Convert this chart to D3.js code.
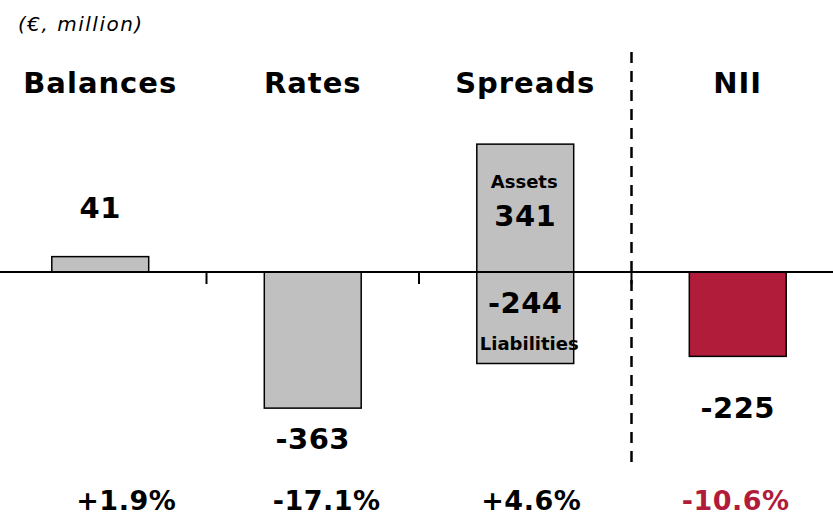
<!DOCTYPE html>
<html>
<head>
<meta charset="utf-8">
<script src="https://cdn.jsdelivr.net/npm/d3@7"></script>
<style>
  body { margin: 0; background: white; }
  text { font-family: "DejaVu Sans", Verdana, sans-serif; font-weight: bold; fill: black; }
</style>
</head>
<body>
<div id="chart"></div>
<script>
let width = 833;
let height = 515;

let categories = ["Balances", "Rates", "Spreads", "NII"];
let barStart = [0, 0, 0, 0];
let barEnd = [41, -363, 341, -225];
let liabilities = -244;
let valueLabels = ["41", "-363", "341", "-225"];
let pctLabels = ["+1.9%", "-17.1%", "+4.6%", "-10.6%"];

let grey = "#c0c0c0";
let red = "#b01c3a";

let svg = d3.select("#chart").append("svg")
    .attr("width", width)
    .attr("height", height);

let x = d3.scaleBand()
    .domain(categories)
    .range([-6, 844]);

let y = d3.scaleLinear()
    .domain([0, 400])
    .range([272, 272 - 150]);

let barW = x.bandwidth() * 0.456;
let cx = function(c) { return x(c) + x.bandwidth() / 2; };

// unit note
svg.append("text")
    .attr("x", 18).attr("y", 31)
    .style("font-weight", "normal")
    .style("font-style", "italic")
    .style("font-size", "20px")
    .style("letter-spacing", "1.5px")
    .text("(€, million)");

// headers
svg.selectAll("text.head")
    .data(categories)
    .enter().append("text")
    .attr("class", "head")
    .attr("x", cx)
    .attr("y", 93)
    .attr("text-anchor", "middle")
    .style("font-size", "29px")
    .style("letter-spacing", "1px")
    .text(function(d) { return d; });

// bars
svg.selectAll("rect.bar")
    .data(categories)
    .enter().append("rect")
    .attr("class", "bar")
    .attr("x", function(d) { return cx(d) - barW / 2; })
    .attr("width", barW)
    .attr("y", function(d, i) { return y(Math.max(barStart[i], barEnd[i])); })
    .attr("height", function(d, i) { return Math.abs(y(barStart[i]) - y(barEnd[i])); })
    .attr("fill", function(d) { return d == "NII" ? red : grey; })
    .attr("stroke", "black")
    .attr("stroke-width", 1.5);

// liabilities part of spreads
svg.append("rect")
    .attr("x", cx("Spreads") - barW / 2)
    .attr("width", barW)
    .attr("y", y(0))
    .attr("height", y(liabilities) - y(0))
    .attr("fill", grey)
    .attr("stroke", "black")
    .attr("stroke-width", 1.5);

// zero line + ticks between categories
svg.append("line")
    .attr("x1", 0).attr("x2", width)
    .attr("y1", y(0)).attr("y2", y(0))
    .attr("stroke", "black").attr("stroke-width", 2);

svg.selectAll("line.tick")
    .data(categories.slice(1))
    .enter().append("line")
    .attr("class", "tick")
    .attr("x1", function(d) { return x(d); })
    .attr("x2", function(d) { return x(d); })
    .attr("y1", y(0)).attr("y2", y(0) + 12)
    .attr("stroke", "black").attr("stroke-width", 2);

// dashed divider before NII
svg.append("line")
    .attr("x1", x("NII")).attr("x2", x("NII"))
    .attr("y1", 52).attr("y2", 470)
    .attr("stroke", "black").attr("stroke-width", 2.5)
    .attr("stroke-dasharray", "11,8");

// value labels
let valY = [218, 449, 226, 418];
svg.selectAll("text.val")
    .data(valueLabels)
    .enter().append("text")
    .attr("class", "val")
    .attr("x", function(d, i) { return cx(categories[i]); })
    .attr("y", function(d, i) { return valY[i]; })
    .attr("text-anchor", "middle")
    .style("font-size", "29px")
    .style("letter-spacing", "0.5px")
    .text(function(d) { return d; });

svg.append("text")
    .attr("x", cx("Spreads")).attr("y", 313)
    .attr("text-anchor", "middle")
    .style("font-size", "29px")
    .style("letter-spacing", "0.5px")
    .text(liabilities);

svg.append("text")
    .attr("x", cx("Spreads") - 1).attr("y", 188)
    .attr("text-anchor", "middle")
    .style("font-size", "18px")
    .text("Assets");

svg.append("text")
    .attr("x", cx("Spreads") + 4).attr("y", 350)
    .attr("text-anchor", "middle")
    .style("font-size", "18px")
    .text("Liabilities");

// percentage changes
let pctShift = [26, 14, 6, -2];
svg.selectAll("text.pct")
    .data(pctLabels)
    .enter().append("text")
    .attr("class", "pct")
    .attr("x", function(d, i) { return cx(categories[i]) + pctShift[i]; })
    .attr("y", 510)
    .attr("text-anchor", "middle")
    .style("font-size", "27px")
    .style("letter-spacing", "0.5px")
    .style("fill", function(d, i) { return categories[i] == "NII" ? red : "black"; })
    .text(function(d) { return d; });
</script>
</body>
</html>
